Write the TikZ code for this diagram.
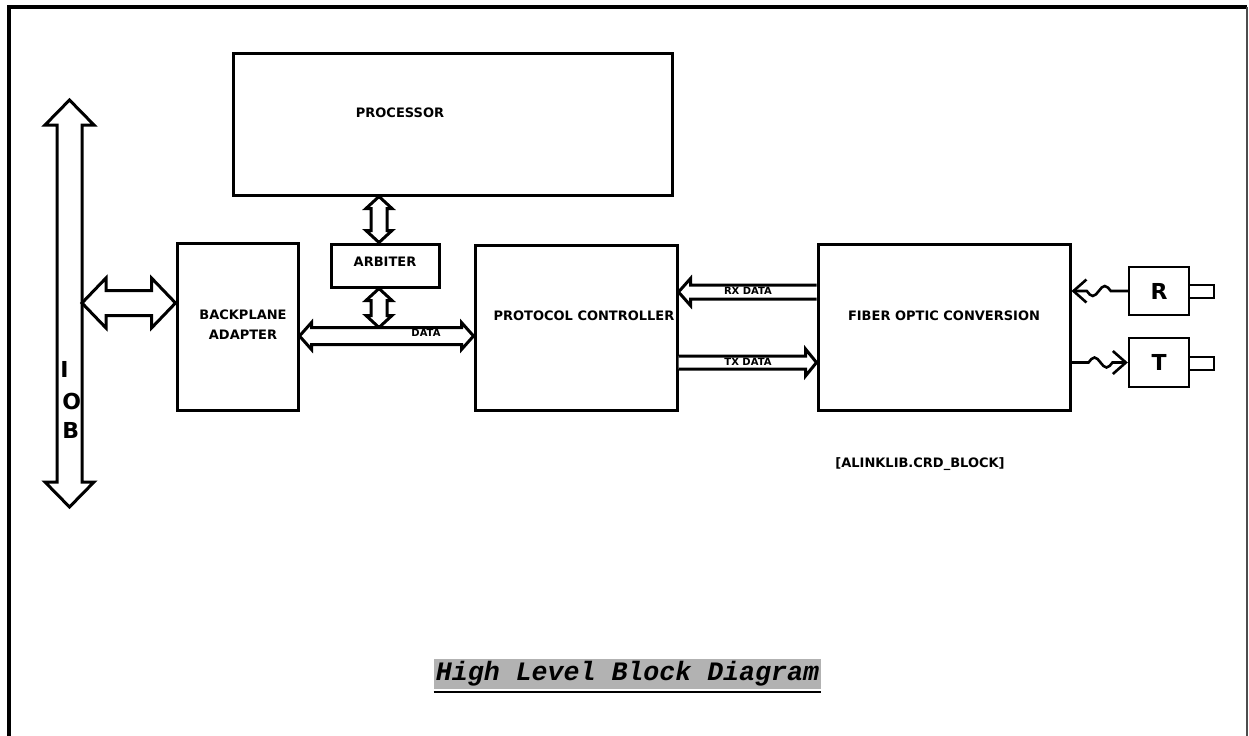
\documentclass[tikz,border=0pt]{standalone}
\usepackage{fontspec}
\setmainfont{DejaVu Sans}
\newfontfamily\capfont{Liberation Mono}
\usetikzlibrary{arrows.meta,fit,calc}
% hollow arrows: #1,#2 tips/tail, #3 half shaft, #4 half head, #5 head length
\newcommand\dblH[5]{\draw[hol] let \p1=#1, \p2=#2 in
  (\x1,\y1) -- (\x1+#5,\y1+#4) -- (\x1+#5,\y1+#3) -- (\x2-#5,\y1+#3) -- (\x2-#5,\y1+#4) -- (\x2,\y1)
  -- (\x2-#5,\y1-#4) -- (\x2-#5,\y1-#3) -- (\x1+#5,\y1-#3) -- (\x1+#5,\y1-#4) -- cycle;}
\newcommand\dblV[5]{\draw[hol] let \p1=#1, \p2=#2 in
  (\x1,\y1) -- (\x1+#4,\y1-#5) -- (\x1+#3,\y1-#5) -- (\x1+#3,\y2+#5) -- (\x1+#4,\y2+#5) -- (\x1,\y2)
  -- (\x1-#4,\y2+#5) -- (\x1-#3,\y2+#5) -- (\x1-#3,\y1-#5) -- (\x1-#4,\y1-#5) -- cycle;}
\newcommand\sglR[5]{\draw[hol] let \p1=#1, \p2=#2 in
  (\x1,\y1+#3) -- (\x2-#5,\y1+#3) -- (\x2-#5,\y1+#4) -- (\x2,\y1) -- (\x2-#5,\y1-#4) -- (\x2-#5,\y1-#3) -- (\x1,\y1-#3);}
\newcommand\sglL[5]{\draw[hol] let \p1=#1, \p2=#2 in
  (\x1,\y1+#3) -- (\x2+#5,\y1+#3) -- (\x2+#5,\y1+#4) -- (\x2,\y1) -- (\x2+#5,\y1-#4) -- (\x2+#5,\y1-#3) -- (\x1,\y1-#3);}
\begin{document}
\begin{tikzpicture}[x=0.5pt,y=-0.5pt,
  box/.style={draw, line width=1.5pt, inner sep=0pt},
  sbox/.style={draw, line width=1.2pt, inner sep=0pt},
  lbl/.style={font=\fontsize{6.5}{10}\selectfont\bfseries, inner sep=0pt},
  small/.style={font=\fontsize{5}{6}\selectfont\bfseries, inner sep=0pt},
  big/.style={font=\fontsize{11}{12}\selectfont\bfseries, inner sep=0pt},
  hol/.style={draw, fill=white, line width=1.5pt, line join=miter},
  fibre/.style={line width=1.3pt},
  barb/.style={-{Straight Barb[length=6.5pt,width=11.5pt]}},
]
\useasboundingbox (0,0) rectangle (1249,735);
% frame
\draw[line width=2pt] (9,745) -- (9,7) -- (1247,7);
\draw[line width=0.8pt, black!70] (1247,7) -- (1247,745);

% boxes
\node[box, fit={(233,53) (672,195)}] (proc) {};
\node[box, fit={(331,244) (439,287)}] (arb) {};
\node[box, fit={(177,243) (298,410)}] (bp) {};
\node[box, fit={(475,245) (677,410)}] (pc) {};
\node[box, fit={(818,244) (1070,410)}] (fib) {};
\node[sbox, fit={(1189,285) (1214,298)}] (rstub) {};
\node[sbox, fit={(1189,357) (1214,370)}] (tstub) {};
\node[sbox, fill=white, fit={(1129,267) (1189,315)}] (R) {};
\node[sbox, fill=white, fit={(1129,338) (1189,387)}] (T) {};

% lanes
\coordinate (iobtop) at (69.5,100);
\coordinate (iobbot) at (69.5,507);
\coordinate (iobR) at (82,303);
\coordinate (arbX) at (379,0);
\coordinate (busY) at (0,336);
\coordinate (rxY) at (0,292);
\coordinate (txY) at (0,362.5);

% hollow arrows
\dblV{(iobtop)}{(iobbot)}{6.25pt}{12.25pt}{12.5pt}
\dblH{(iobR)}{(bp.west |- iobR)}{6.25pt}{12.5pt}{12pt}
\dblV{(arbX |- proc.south)}{(arbX |- arb.north)}{4pt}{6.5pt}{6pt}
\dblV{(arbX |- arb.south)}{($(arbX |- busY)+(0,-8.5)$)}{4pt}{6.5pt}{6pt}
\dblH{(bp.east |- busY)}{(pc.west |- busY)}{4.25pt}{6.75pt}{6pt}
\sglL{(fib.west |- rxY)}{(pc.east |- rxY)}{3.5pt}{6.75pt}{6pt}
\sglR{(pc.east |- txY)}{(fib.west |- txY)}{3.25pt}{6.75pt}{5.5pt}

% fibre connections
\draw[fibre, barb] (R.west) -- ++(-17,0) sin ++(-6,-5) cos ++(-6,5) sin ++(-6,5) cos ++(-6,-5) -- (fib.east |- R.west);
\draw[fibre, barb] (fib.east |- T.west) -- ++(17,0) sin ++(6,-5) cos ++(6,5) sin ++(6,5) cos ++(6,-5) -- (T.west);

% labels
\node[lbl] (procl) at (400,113) {PROCESSOR};
\node[lbl] (arbl) at (385,262) {ARBITER};
\node[lbl, align=center] (bpl) at (243,325) {BACKPLANE\\ADAPTER};
\node[lbl] (pcl) at (584,316) {PROTOCOL CONTROLLER};
\node[lbl] (fibl) at (944,316) {FIBER OPTIC CONVERSION};
\node[lbl] (alink) at (920,464) {[ALINKLIB.CRD\_BLOCK]};
\node[small] (rxl) at (748,291) {RX DATA};
\node[small] (txl) at (748,362) {TX DATA};
\node[small] (datal) at (426,333) {DATA};
\node[big] (rl) at (R.center) {R};
\node[big] (tl) at (T.center) {T};
\node[big, anchor=west] (il) at (60,369) {I};
\node[big, anchor=west] (ol) at (62,401) {O};
\node[big, anchor=west] (bl) at (62,430) {B};

% caption
\node[fill=black!30, inner xsep=1pt, inner ysep=1.5pt,
      font=\capfont\bfseries\itshape\fontsize{13.3}{14}\selectfont] (cap) at (627.5,674) {High Level Block Diagram};
\draw[line width=1.2pt] ($(cap.south west)+(0,2)$) -- ($(cap.south east)+(0,2)$);
\end{tikzpicture}
\end{document}
